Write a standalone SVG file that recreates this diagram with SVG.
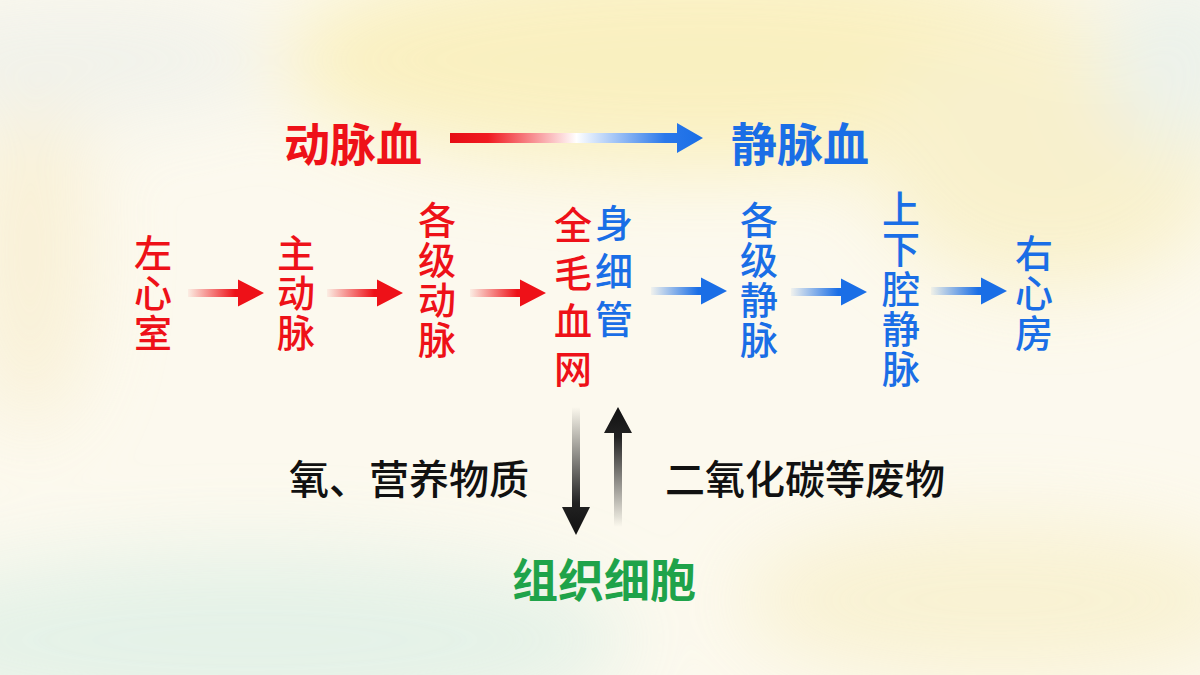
<svg xmlns="http://www.w3.org/2000/svg" width="1200" height="675" viewBox="0 0 1200 675">
<defs>
<style>
.t{font-family:"Noto Sans CJK SC","Noto Sans",sans-serif;}
.red{fill:#ee1118;}
.blue{fill:#1a6ee6;}
.col{font-size:38px;font-weight:500;writing-mode:vertical-rl;glyph-orientation-vertical:0;letter-spacing:2px;}
.wide{letter-spacing:10px;}
.title{font-size:46px;font-weight:700;}
.lbl{font-size:40px;font-weight:500;fill:#111;}
</style>
<filter id="blur" x="-50%" y="-50%" width="200%" height="200%"><feGaussianBlur stdDeviation="40"/></filter>
<linearGradient id="gTop" x1="0" y1="0" x2="1" y2="0">
<stop offset="0" stop-color="#e60d14"/>
<stop offset="0.15" stop-color="#f01a20"/>
<stop offset="0.5" stop-color="#ffffff"/>
<stop offset="0.85" stop-color="#2a78ea"/>
<stop offset="1" stop-color="#1a6ee6"/>
</linearGradient>
<linearGradient id="gRed" x1="0" y1="0" x2="1" y2="0">
<stop offset="0" stop-color="#ee1118" stop-opacity="0.05"/>
<stop offset="0.62" stop-color="#ee1118" stop-opacity="1"/>
<stop offset="1" stop-color="#ee1118"/>
</linearGradient>
<linearGradient id="gBlue" x1="0" y1="0" x2="1" y2="0">
<stop offset="0" stop-color="#1a6ee6" stop-opacity="0.05"/>
<stop offset="0.62" stop-color="#1a6ee6" stop-opacity="1"/>
<stop offset="1" stop-color="#1a6ee6"/>
</linearGradient>
<linearGradient id="gDown" x1="0" y1="0" x2="0" y2="1">
<stop offset="0" stop-color="#222" stop-opacity="0"/>
<stop offset="0.75" stop-color="#222" stop-opacity="1"/>
<stop offset="1" stop-color="#111"/>
</linearGradient>
<linearGradient id="gUp" x1="0" y1="0" x2="0" y2="1">
<stop offset="0" stop-color="#111"/>
<stop offset="0.25" stop-color="#222" stop-opacity="1"/>
<stop offset="1" stop-color="#222" stop-opacity="0"/>
</linearGradient>
<path id="hArrow" d="M0,-4 H50 V-13.5 L76,0 L50,13.5 V4 H0 Z"/>
</defs>

<g id="background">
<rect width="1200" height="675" fill="#fcf9ee"/>
<g filter="url(#blur)" opacity="0.8">
<ellipse cx="700" cy="60" rx="420" ry="110" fill="#f9eeb5"/>
<ellipse cx="1050" cy="150" rx="180" ry="140" fill="#f8efc4"/>
<ellipse cx="30" cy="250" rx="60" ry="180" fill="#f8eed0"/>
<ellipse cx="250" cy="640" rx="380" ry="90" fill="#dff0e6"/>
<ellipse cx="80" cy="60" rx="200" ry="60" fill="#eef0ea"/>
<ellipse cx="1000" cy="600" rx="260" ry="80" fill="#f8f0cc"/>
<ellipse cx="1180" cy="60" rx="80" ry="90" fill="#e8f0ea"/>
</g>
</g>

<g id="connectors">
<path d="M450,133 H677 V123 L703,138 L677,153 V143 H450 Z" fill="url(#gTop)"/>
<use href="#hArrow" transform="translate(188,293)" fill="url(#gRed)"/>
<use href="#hArrow" transform="translate(327,293)" fill="url(#gRed)"/>
<use href="#hArrow" transform="translate(470,293)" fill="url(#gRed)"/>
<use href="#hArrow" transform="translate(651,291)" fill="url(#gBlue)"/>
<use href="#hArrow" transform="translate(791,292)" fill="url(#gBlue)"/>
<use href="#hArrow" transform="translate(931,291)" fill="url(#gBlue)"/>
<path d="M572,407 H580 V507 H590 L576,535 L562,507 H572 Z" fill="url(#gDown)"/>
<path d="M618,407 L632,433 H622 V527 H614 V433 H604 Z" fill="url(#gUp)"/>
</g>

<g id="title-arterial"><text class="t title red" x="284" y="161">动脉血</text></g>
<g id="title-venous"><text class="t title blue" x="731" y="161">静脉血</text></g>

<g id="n-left-ventricle"><text class="t col red" x="153" y="234">左心室</text></g>
<g id="n-aorta"><text class="t col red" x="296" y="234">主动脉</text></g>
<g id="n-arteries"><text class="t col red" x="437" y="201">各级动脉</text></g>
<g id="n-capillaries">
<text class="t col wide red" x="573" y="206">全毛血网</text>
<text class="t col wide blue" x="614" y="204">身细管</text>
</g>
<g id="n-veins"><text class="t col blue" x="759" y="201">各级静脉</text></g>
<g id="n-vena-cava"><text class="t col blue" x="901" y="190">上下腔静脉</text></g>
<g id="n-right-atrium"><text class="t col blue" x="1034" y="234">右心房</text></g>

<g id="lbl-in"><text class="t lbl" x="289" y="494">氧、营养物质</text></g>
<g id="lbl-out"><text class="t lbl" x="665" y="494">二氧化碳等废物</text></g>
<g id="n-tissue"><text class="t" x="512" y="597" font-size="46" font-weight="700" fill="#1fa34a">组织细胞</text></g>
</svg>
